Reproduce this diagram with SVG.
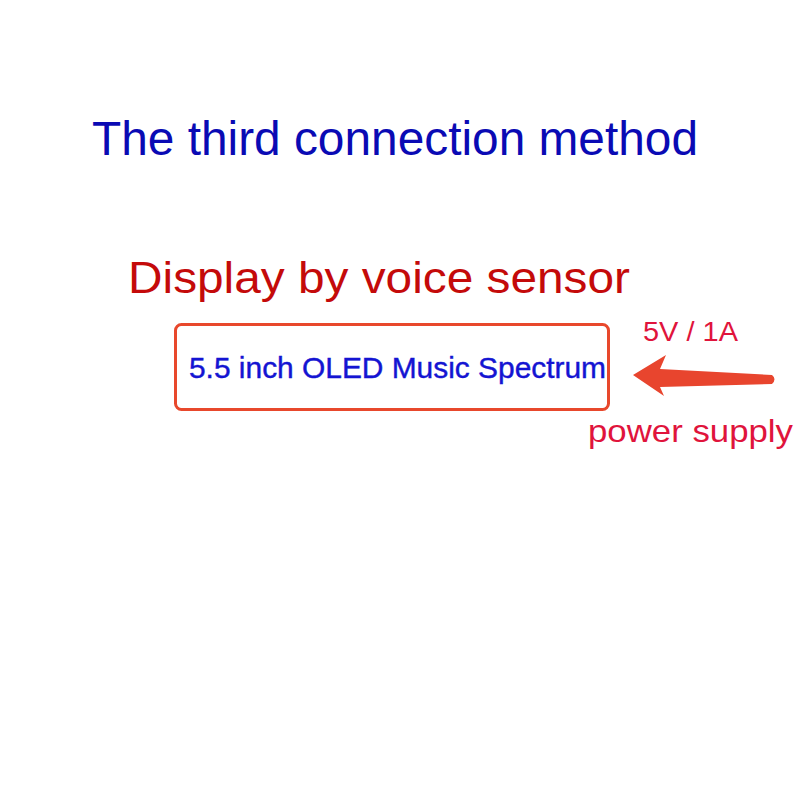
<svg xmlns="http://www.w3.org/2000/svg" width="800" height="800" viewBox="0 0 800 800">
<style>
text{font-family:"Liberation Sans",Arial,sans-serif}
.title{fill:#0a0ab4;font-size:48px}
.sub{fill:#c40a0a;font-size:44px}
.lbl{fill:#1414d2;font-size:29px;stroke:#1414d2;stroke-width:0.4}
.red{fill:#e0143c}
</style>
<rect width="800" height="800" fill="#fff"/>
<g id="title"><text class="title" x="92" y="155" textLength="606" lengthAdjust="spacingAndGlyphs">The third connection method</text></g>
<g id="subtitle"><text class="sub" x="128" y="293" textLength="502" lengthAdjust="spacingAndGlyphs">Display by voice sensor</text></g>
<g id="oled">
<rect x="175.5" y="324.5" width="433" height="85" rx="6" fill="#fff" stroke="#e8482c" stroke-width="3"/>
<text class="lbl" x="189" y="378" textLength="417" lengthAdjust="spacingAndGlyphs">5.5 inch OLED Music Spectrum</text>
</g>
<g id="connectors">
<path d="M633 375 L666 355 L660 369 L772 375 Q777 379 772 384 L660 387 L664 396 Z" fill="#e8452e"/>
</g>
<g id="power">
<text class="red" x="643" y="341" font-size="27" textLength="95" lengthAdjust="spacingAndGlyphs">5V / 1A</text>
<text class="red" x="588" y="442" font-size="32" textLength="205" lengthAdjust="spacingAndGlyphs">power supply</text>
</g>
</svg>
